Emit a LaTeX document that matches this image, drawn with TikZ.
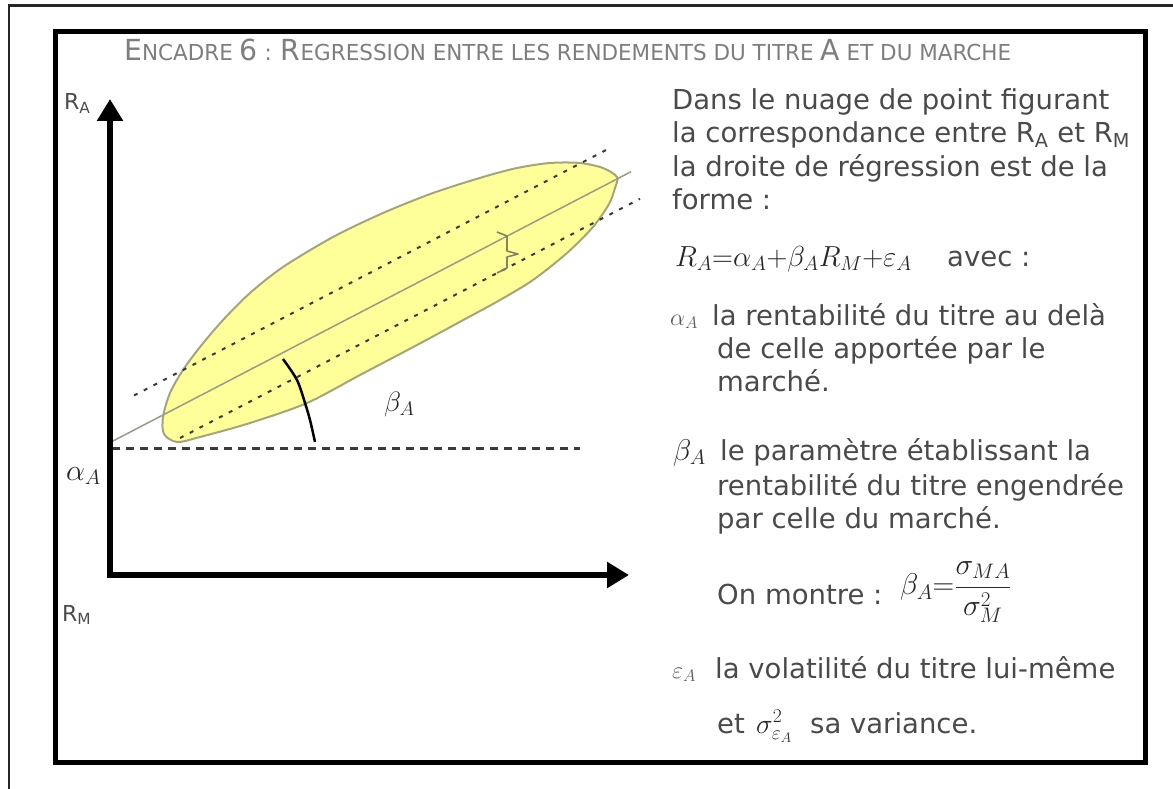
\RequirePackage{fix-cm}
\documentclass[tikz,border=0pt]{standalone}
\usepackage{fontspec}
\setmainfont{DejaVu Sans}
\usepackage{graphicx}
\usetikzlibrary{arrows.meta}
\definecolor{txt}{HTML}{4A4A4A}
\definecolor{ttl}{HTML}{7E7E7E}
\definecolor{elfill}{HTML}{FFFF99}
\definecolor{eldraw}{HTML}{A5A57C}
\definecolor{dashc}{HTML}{3A3A3A}
\definecolor{midc}{HTML}{9A9A86}
\newcommand{\bigcp}[1]{{\fontsize{29}{29}\selectfont #1}}
\tikzset{
  frameout/.style={line width=2.5pt, black!85},
  framein/.style={line width=5pt, black},
  titlestyle/.style={anchor=base west, inner sep=0pt, text=ttl, font=\fontsize{22}{22}\selectfont},
  body/.style={anchor=base west, inner sep=0pt, text=txt, font=\fontsize{27.5}{33}\selectfont},
  mlabel/.style={inner sep=0pt, text=black!85, font=\fontsize{26}{30}\selectfont},
  axisline/.style={line width=6pt, black, -{Triangle[length=22pt,width=25pt]}},
  hdash/.style={line width=2.5pt, dashc, dash pattern=on 8pt off 6pt},
  pdash/.style={line width=2pt, dashc, dash pattern=on 4pt off 7pt},
  regline/.style={line width=1.5pt, midc},
  cloud/.style={fill=elfill, draw=eldraw, line width=2pt},
  anglearc/.style={line width=2.5pt, black},
  bracestyle/.style={line width=1.6pt, eldraw!80!black, line join=round},
}
\begin{document}
\begin{tikzpicture}[x=1pt,y=-1pt]
\useasboundingbox (0,0) rectangle (1173,789);
% frames
\draw[frameout] (9,789) -- (9,5.5) -- (1173,5.5);
\draw[framein] (55,32) rectangle (1145,762);
% title
\node[titlestyle] (title) at (124,61) {\resizebox{887pt}{\height}{\bigcp{E}NCADRE \bigcp{6} : \bigcp{R}EGRESSION ENTRE LES RENDEMENTS DU TITRE \bigcp{A} ET DU MARCHE}};
% point cloud
\draw[cloud] plot[smooth cycle, tension=0.5] coordinates {
 (163,417) (170,393) (183,370) (200,347) (223,320) (250,293) (283,267)
 (333,237) (383,213) (433,193) (483,177) (517,168) (550,163) (580,163)
 (603,168) (617,177) (615,188) (609,204) (593,227) (567,253) (533,280)
 (500,300) (467,318) (417,345) (360,375) (307,403) (250,423) (200,437)
 (177,442) (164,434)};
% regression lines
\coordinate (m1) at (112,441.5);
\coordinate (m2) at (631,171.7);
\coordinate (u1) at (134,395.5);
\coordinate (u2) at (610,148);
\coordinate (l1) at (180,438);
\coordinate (l2) at (640,198.8);
\draw[regline] (m1) -- (m2);
\draw[pdash] (u1) -- (u2);
\draw[pdash] (l1) -- (l2);
% horizontal dashed line
\coordinate (h1) at (112,448.5);
\coordinate (h2) at (580,448.5);
\draw[hdash] (h1) -- (h2);
% epsilon brace
\draw[bracestyle] (497,232) -- (507,236) -- (507,251) -- (518,254) -- (507,257) -- (507,268) -- (497,273);
% angle arc
\draw[anglearc] plot[smooth] coordinates {(283,359) (297,380) (305,403) (310,420) (315,442)};
% axes
\coordinate (oy) at (110,578);
\coordinate (ox) at (107,575);
\coordinate (ytip) at (110,99);
\coordinate (xtip) at (629,575);
\draw[axisline] (oy) -- (ytip);
\draw[axisline] (ox) -- (xtip);
% axis labels
\node[anchor=base west, inner sep=0pt, text=txt, font=\fontsize{22}{22}\selectfont] (ra) at (64,110) {R\textsubscript{A}};
\node[anchor=base west, inner sep=0pt, text=txt, font=\fontsize{22}{22}\selectfont] (rm) at (62,621) {R\textsubscript{M}};
\node[mlabel, anchor=west, font=\fontsize{30}{30}\selectfont] (alab) at (66,476) {$\alpha_A$};
\node[mlabel, anchor=west, font=\fontsize{28}{30}\selectfont] (blab) at (384,404) {$\beta_A$};
% right column
\node[body] (t1) at (672,110) {Dans le nuage de point figurant};
\node[body] (t2) at (672,143) {la correspondance entre R\textsubscript{A} et R\textsubscript{M}};
\node[body] (t3) at (672,176) {la droite de régression est de la};
\node[body] (t4) at (672,209) {forme :};
\node[mlabel, anchor=base west, font=\fontsize{29}{30}\selectfont] (f1) at (675,266) {$R_A{=}\alpha_A{+}\beta_A R_M{+}\varepsilon_A$};
\node[body] (f2) at (947,266) {avec :};
\node[mlabel, anchor=base west, text=black!65, font=\fontsize{24}{30}\selectfont] (a1) at (670,325) {$\alpha_A$};
\node[body] (a2) at (712,325) {la rentabilité du titre au delà};
\node[body] (a3) at (717,358) {de celle apportée par le};
\node[body] (a4) at (717,391) {marché.};
\node[mlabel, anchor=base west, font=\fontsize{30}{30}\selectfont] (b1) at (673,460) {$\beta_A$};
\node[body] (b2) at (720,460) {le paramètre établissant la};
\node[body] (b3) at (717,495) {rentabilité du titre engendrée};
\node[body] (b4) at (717,528) {par celle du marché.};
\node[body] (c1) at (717,604) {On montre :};
\node[mlabel, anchor=west, font=\fontsize{30}{30}\selectfont] (c2) at (900,592) {$\beta_A{=}{\displaystyle\frac{\sigma_{MA}}{\sigma^2_M}}$};
\node[mlabel, anchor=base west, text=black!65, font=\fontsize{24}{30}\selectfont] (e1) at (672,678) {$\varepsilon_A$};
\node[body] (e2) at (715,678) {la volatilité du titre lui-même};
\node[body] (e3) at (717,733) {et};
\node[mlabel, anchor=base west, font=\fontsize{28}{30}\selectfont] (e4) at (756,733) {$\sigma^2_{\varepsilon_A}$};
\node[body] (e5) at (810,733) {sa variance.};
\end{tikzpicture}
\end{document}
